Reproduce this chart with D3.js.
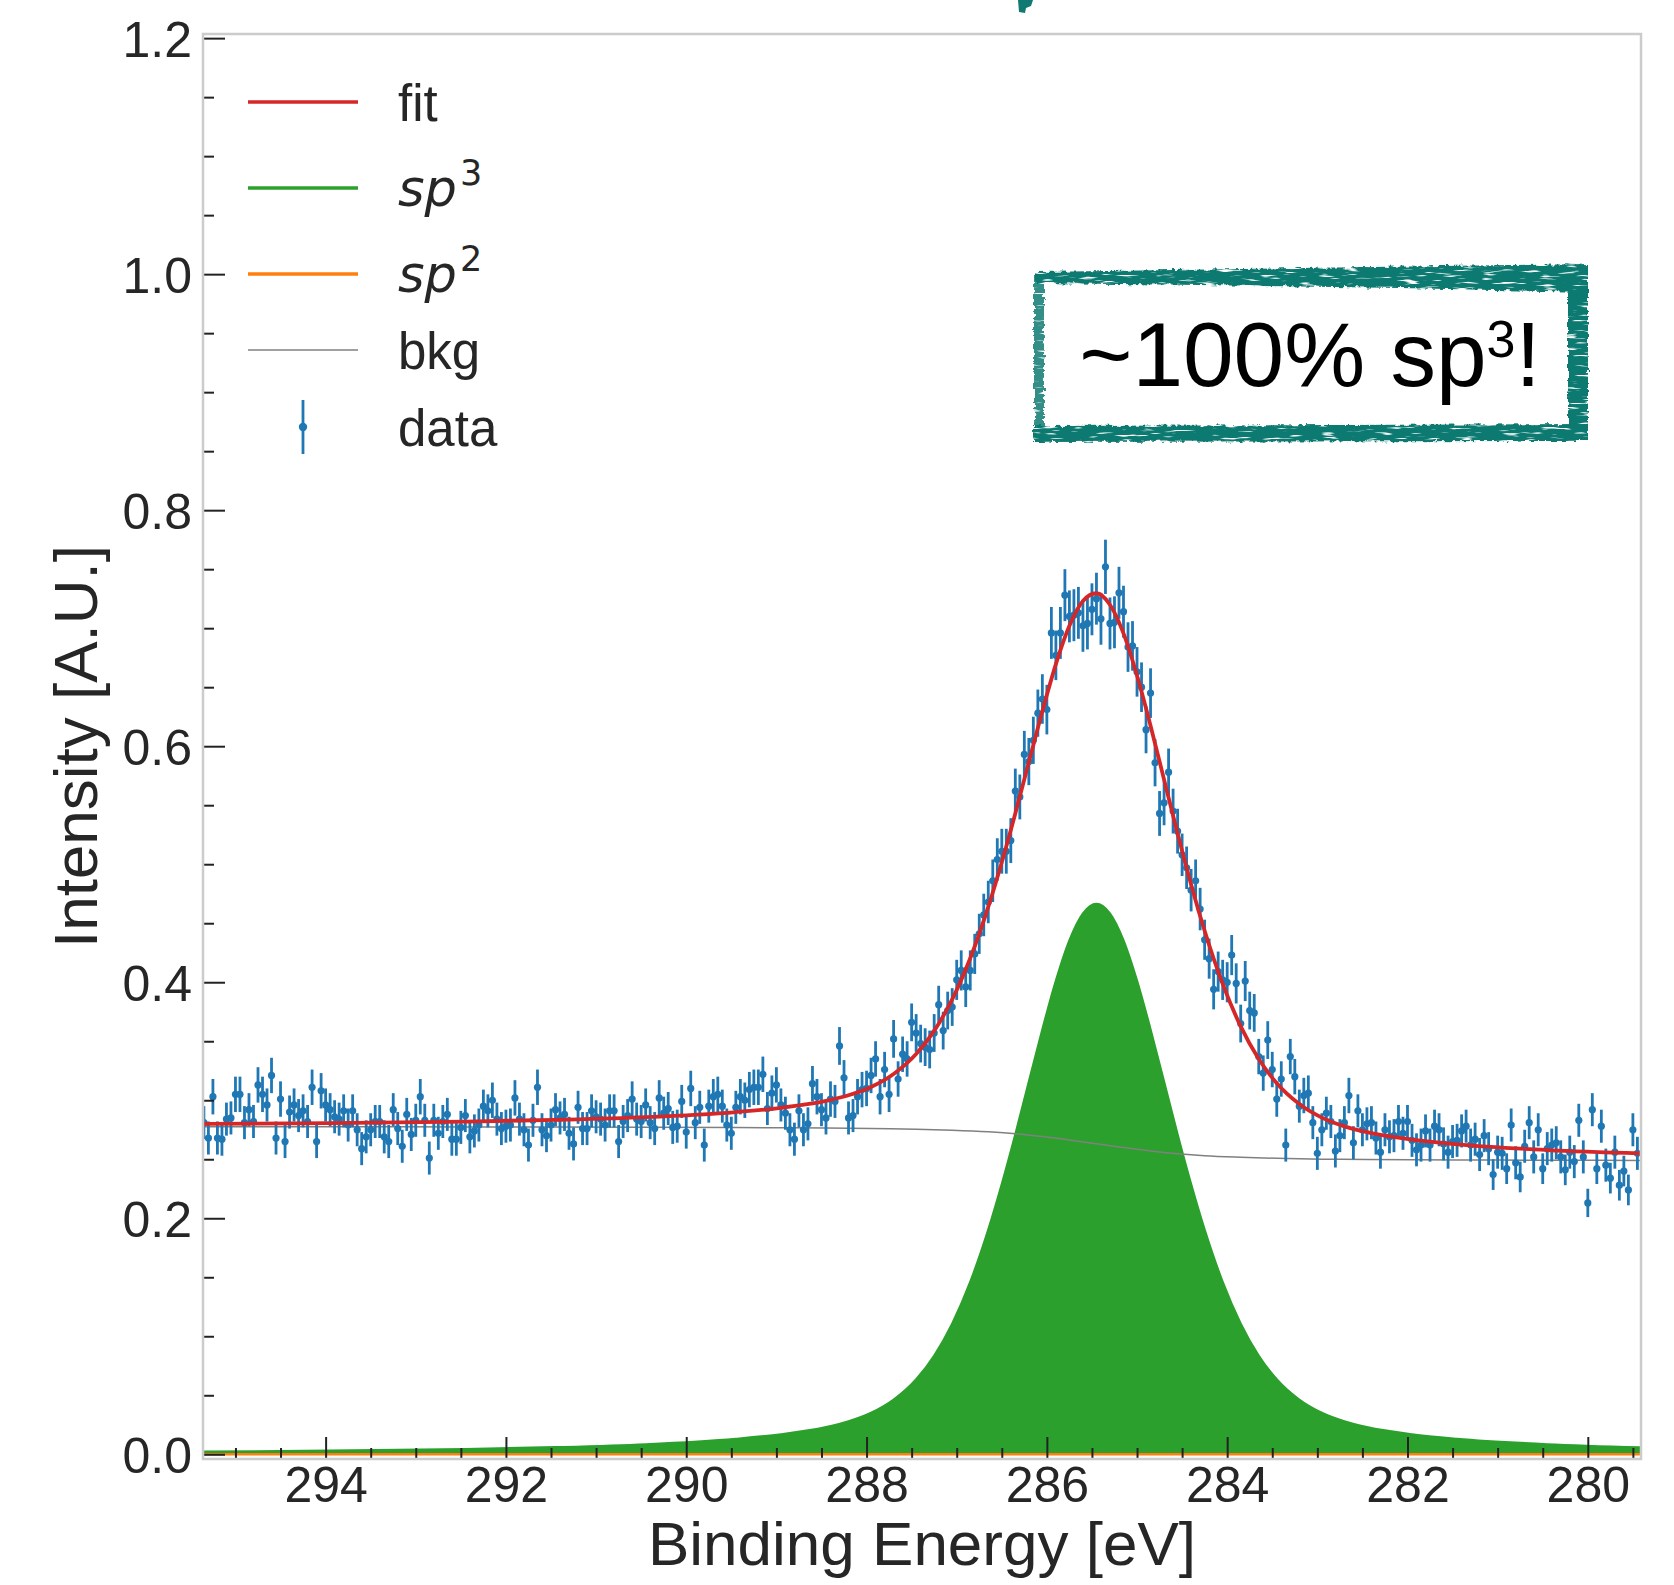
<!DOCTYPE html>
<html>
<head>
<meta charset="utf-8">
<script src="https://cdn.jsdelivr.net/npm/d3@7"></script>
<style>
  html,body{margin:0;padding:0;background:#fff;}
  svg{display:block;}
</style>
</head>
<body>
<svg id="chart" width="1674" height="1585"></svg>
<script>
// ---------------- DATA ----------------
const xTicks = [294, 292, 290, 288, 286, 284, 282, 280];
const xTickLabels = ["294", "292", "290", "288", "286", "284", "282", "280"];
const yTicks = [0.0, 0.2, 0.4, 0.6, 0.8, 1.0, 1.2];
const yTickLabels = ["0.0", "0.2", "0.4", "0.6", "0.8", "1.0", "1.2"];

const legendLabels = ["fit", "sp3", "sp2", "bkg", "data"];

// model curves (energy in eV, intensity in A.U.)
const modelE = [295.4, 293.95, 292.45, 291.45, 290.45, 289.45, 288.95, 288.45, 288.2, 287.95,
  287.7, 287.45, 287.25, 287.05, 286.85, 286.65, 286.5, 286.35, 286.2, 286.05,
  285.9, 285.75, 285.6, 285.45, 285.3, 285.15, 285.0, 284.85, 284.7, 284.55,
  284.4, 284.25, 284.05, 283.85, 283.65, 283.45, 283.2, 282.95, 282.7, 282.45,
  281.95, 281.45, 280.45, 279.4];
const sp3V = [0.0023, 0.0031, 0.0045, 0.0061, 0.0086, 0.0132, 0.017, 0.0231, 0.028, 0.0352,
  0.0464, 0.0636, 0.0837, 0.1109, 0.1463, 0.1906, 0.2292, 0.2714, 0.316, 0.3604,
  0.4016, 0.4357, 0.4584, 0.4665, 0.4584, 0.4357, 0.4016, 0.3604, 0.316, 0.2714,
  0.2292, 0.1906, 0.1463, 0.1109, 0.0837, 0.0636, 0.0464, 0.0352, 0.028, 0.0231,
  0.017, 0.0132, 0.0086, 0.006];
const fitV = [0.2799, 0.2806, 0.2819, 0.2834, 0.2857, 0.29, 0.2936, 0.2995, 0.3042, 0.3112,
  0.3222, 0.3391, 0.3588, 0.3855, 0.4203, 0.4638, 0.5016, 0.543, 0.5865, 0.6296,
  0.6695, 0.702, 0.7231, 0.7296, 0.7199, 0.6956, 0.6599, 0.6174, 0.5717, 0.5261,
  0.4829, 0.4436, 0.3986, 0.3626, 0.3349, 0.3144, 0.2968, 0.2853, 0.2779, 0.2729,
  0.2666, 0.2626, 0.2578, 0.255];
const bkgE = [295.4, 293.95, 292.45, 291.45, 290.45, 289.45, 288.45, 287.95, 287.45, 287.05,
  286.65, 286.35, 286.05, 285.75, 285.45, 285.15, 284.85, 284.55, 284.25, 283.85,
  283.45, 282.95, 282.45, 281.45, 280.45, 279.4];
const bkgV = [0.2776, 0.2775, 0.2774, 0.2773, 0.2771, 0.2768, 0.2764, 0.276, 0.2755, 0.2746,
  0.2732, 0.2716, 0.2692, 0.2663, 0.2631, 0.2599, 0.257, 0.2547, 0.253, 0.2517,
  0.2508, 0.2501, 0.2498, 0.2494, 0.2492, 0.249];
const sp2E = [295.4, 279.4];
const sp2V = [0, 0];

// measured points: energies from 295.35 eV down in 0.05 eV steps
const dataStartE = 295.35, dataStepE = 0.05;
const dataY = [
0.281,0.268,0.303,0.268,0.267,0.284,0.285,0.305,0.305,0.281,0.292,
0.282,0.313,0.305,0.296,0.321,0.268,0.301,0.265,0.290,0.296,0.287,
0.291,0.282,0.311,0.265,0.308,0.296,0.292,0.286,0.284,0.291,0.279,
0.291,0.275,0.259,0.269,0.275,0.282,0.282,0.269,0.265,0.292,0.276,
0.261,0.288,0.271,0.283,0.303,0.283,0.251,0.283,0.272,0.282,0.288,
0.267,0.267,0.277,0.287,0.269,0.274,0.279,0.295,0.291,0.300,0.284,
0.276,0.278,0.279,0.302,0.284,0.275,0.262,0.283,0.311,0.275,0.270,
0.279,0.292,0.285,0.288,0.272,0.263,0.294,0.276,0.276,0.291,0.286,
0.284,0.279,0.291,0.291,0.265,0.282,0.287,0.301,0.284,0.282,0.296,
0.281,0.276,0.302,0.289,0.293,0.277,0.278,0.299,0.273,0.310,0.281,
0.294,0.262,0.295,0.303,0.305,0.295,0.279,0.272,0.294,0.303,0.300,
0.309,0.311,0.311,0.322,0.293,0.306,
0.313,0.296,0.289,0.275,0.267,0.291,0.275,0.280,0.314,0.303,0.292,
0.285,0.301,0.299,0.346,0.319,0.285,0.287,0.303,0.309,0.310,0.321,
0.335,0.303,0.326,0.305,0.352,0.318,0.339,0.335,0.366,0.357,0.348,
0.345,0.343,0.357,0.381,0.359,0.376,0.379,0.402,0.410,0.396,
0.410,0.424,
0.441,0.457,0.468,0.486,
0.504,0.511,0.511,0.520,0.562,0.557,0.593,0.587,0.605,0.628,0.640,
0.631,0.696,0.677,0.696,0.728,0.710,0.711,0.713,0.702,0.704,0.716,
0.725,0.708,0.752,0.704,0.705,0.730,0.714,0.684,0.685,0.663,0.650,
0.614,0.645,0.586,0.543,0.552,0.578,0.545,0.528,
0.508,
0.497,0.478,0.486,0.462,0.436,
0.420,0.394,0.409,0.402,0.400,0.423,0.399,0.365,0.401,0.376,0.374,0.337,0.323,0.351,0.326,0.301,
0.318,0.262,0.337,0.320,0.295,0.304,0.306,0.281,0.255,0.275,0.289,
0.282,0.257,0.270,0.281,0.304,0.264,0.291,0.275,0.280,0.281,0.268,
0.256,0.275,0.269,0.270,0.282,0.272,0.282,0.266,0.258,0.262,0.274,
0.262,0.278,0.275,0.263,0.256,0.265,0.266,0.274,0.278,0.262,0.267,
0.254,0.270,0.259,0.237,0.256,0.255,0.242,0.279,0.247,0.235,0.261,
0.281,0.252,0.275,0.242,0.259,0.262,0.264,0.252,0.241,0.256,0.248,
0.283,0.252,0.213,0.292,0.242,0.278,0.245,0.234,0.256,0.228,0.240,
0.224,0.275,0.255
];
const dataErr = [
0.014,0.014,0.015,0.014,0.014,0.014,0.014,0.015,0.015,0.014,0.014,
0.014,0.015,0.015,0.014,0.015,0.014,0.015,0.014,0.014,0.014,0.014,
0.014,0.014,0.015,0.014,0.015,0.014,0.014,0.014,0.014,0.014,0.014,
0.014,0.014,0.014,0.014,0.014,0.014,0.014,0.014,0.014,0.014,0.014,
0.014,0.014,0.014,0.014,0.015,0.014,0.014,0.014,0.014,0.014,0.014,
0.014,0.014,0.014,0.014,0.014,0.014,0.014,0.014,0.014,0.015,0.014,
0.014,0.014,0.014,0.015,0.014,0.014,0.014,0.014,0.015,0.014,0.014,
0.014,0.014,0.014,0.014,0.014,0.014,0.014,0.014,0.014,0.014,0.014,
0.014,0.014,0.014,0.014,0.014,0.014,0.014,0.015,0.014,0.014,0.014,
0.014,0.014,0.015,0.014,0.014,0.014,0.014,0.014,0.014,0.015,0.014,
0.014,0.014,0.014,0.015,0.015,0.014,0.014,0.014,0.014,0.015,0.015,
0.015,0.015,0.015,0.015,0.014,0.015,
0.015,0.014,0.014,0.014,0.014,0.014,0.014,0.014,0.015,0.015,0.014,
0.014,0.015,0.014,0.016,0.015,0.014,0.014,0.015,0.015,0.015,0.015,
0.015,0.015,0.015,0.015,0.016,0.015,0.015,0.015,0.016,0.016,0.016,
0.016,0.016,0.016,0.016,0.016,0.016,0.016,0.017,0.017,0.017,
0.017,0.017,
0.017,0.018,0.018,0.018,
0.018,0.019,0.019,0.019,0.019,0.019,0.020,0.020,0.020,0.020,0.021,
0.021,0.022,0.021,0.022,0.022,0.022,0.022,0.022,0.022,0.022,0.022,
0.022,0.022,0.023,0.022,0.022,0.022,0.022,0.021,0.021,0.021,0.021,
0.020,0.021,0.020,0.019,0.019,0.020,0.019,0.019,
0.018,
0.018,0.018,0.018,0.018,0.017,
0.017,0.017,0.017,0.017,0.017,0.017,0.017,0.016,0.017,0.016,0.016,0.015,0.015,0.016,0.015,0.015,
0.015,0.014,0.015,0.015,0.014,0.015,0.015,0.014,0.014,0.014,0.014,
0.014,0.014,0.014,0.014,0.015,0.014,0.014,0.014,0.014,0.014,0.014,
0.014,0.014,0.014,0.014,0.014,0.014,0.014,0.014,0.014,0.014,0.014,
0.014,0.014,0.014,0.014,0.014,0.014,0.014,0.014,0.014,0.014,0.014,
0.014,0.014,0.014,0.013,0.014,0.014,0.013,0.014,0.014,0.013,0.014,
0.014,0.014,0.014,0.013,0.014,0.014,0.014,0.014,0.013,0.014,0.014,
0.014,0.014,0.012,0.014,0.013,0.014,0.014,0.013,0.014,0.013,0.013,
0.013,0.014,0.014
];
if (dataY.length !== dataErr.length) console.error("length mismatch", dataY.length, dataErr.length);

// ---------------- LAYOUT ----------------
const plot = {left: 203, right: 1641, top: 34, bottom: 1459};
const FONT = "'Liberation Sans', Arial, Helvetica, sans-serif";
const TXT = "#262626";
const C = {fit: "#d62728", sp3: "#2ca02c", sp2: "#ff7f0e", bkg: "#808080", data: "#1f77b4", teal: "#107a72"};

const svg = d3.select("#chart");
const x = d3.scaleLinear().domain([295.36, 279.41]).range([plot.left, plot.right]);
const y = d3.scaleLinear().domain([-0.004, 1.2035]).range([plot.bottom, plot.top]);

const defs = svg.append("defs");
defs.append("clipPath").attr("id", "clip")
  .append("rect").attr("x", plot.left).attr("y", plot.top)
  .attr("width", plot.right - plot.left).attr("height", plot.bottom - plot.top);

// grunge filter for the stamp box: rough edges, mostly solid ink with a few light streaks
const f = defs.append("filter").attr("id", "grunge")
  .attr("x", "-10%").attr("y", "-30%").attr("width", "120%").attr("height", "160%");
f.append("feTurbulence").attr("type", "fractalNoise").attr("baseFrequency", "0.18")
  .attr("numOctaves", 3).attr("seed", 4).attr("result", "n");
f.append("feDisplacementMap").attr("in", "SourceGraphic").attr("in2", "n")
  .attr("scale", 6).attr("xChannelSelector", "R").attr("yChannelSelector", "G").attr("result", "d");
f.append("feTurbulence").attr("type", "fractalNoise").attr("baseFrequency", "0.05 0.4")
  .attr("numOctaves", 2).attr("seed", 11).attr("result", "n2");
f.append("feColorMatrix").attr("in", "n2").attr("type", "matrix")
  .attr("values", "0 0 0 0 0  0 0 0 0 0  0 0 0 0 0  0 0 0 -6 4.6").attr("result", "m");
f.append("feComposite").attr("in", "d").attr("in2", "m").attr("operator", "in");

const g = svg.append("g").attr("clip-path", "url(#clip)");

// sp3 fill + line
const model = modelE.map((e, i) => ({e, sp3: sp3V[i], fit: fitV[i]}));
const bkg = bkgE.map((e, i) => ({e, v: bkgV[i]}));
const sp2 = sp2E.map((e, i) => ({e, v: sp2V[i]}));

g.append("path").datum(model)
  .attr("d", d3.area().x(d => x(d.e)).y0(y(0)).y1(d => y(d.sp3)).curve(d3.curveMonotoneX))
  .attr("fill", C.sp3);
g.append("path").datum(model)
  .attr("d", d3.line().x(d => x(d.e)).y(d => y(d.sp3)).curve(d3.curveMonotoneX))
  .attr("fill", "none").attr("stroke", C.sp3).attr("stroke-width", 2);
g.append("path").datum(sp2)
  .attr("d", d3.line().x(d => x(d.e)).y(d => y(d.v)))
  .attr("fill", "none").attr("stroke", C.sp2).attr("stroke-width", 2.5);
g.append("path").datum(bkg)
  .attr("d", d3.line().x(d => x(d.e)).y(d => y(d.v)).curve(d3.curveMonotoneX))
  .attr("fill", "none").attr("stroke", C.bkg).attr("stroke-width", 1.5);

// data with error bars
const pts = dataY.map((v, i) => ({e: dataStartE - dataStepE * i, v, err: dataErr[i]}));
const dg = g.append("g");
dg.selectAll("line").data(pts).join("line")
  .attr("x1", d => x(d.e)).attr("x2", d => x(d.e))
  .attr("y1", d => y(d.v - d.err)).attr("y2", d => y(d.v + d.err))
  .attr("stroke", C.data).attr("stroke-width", 2.8);
dg.selectAll("circle").data(pts).join("circle")
  .attr("cx", d => x(d.e)).attr("cy", d => y(d.v)).attr("r", 3.6)
  .attr("fill", C.data);

// fit line
g.append("path").datum(model)
  .attr("d", d3.line().x(d => x(d.e)).y(d => y(d.fit)).curve(d3.curveMonotoneX))
  .attr("fill", "none").attr("stroke", C.fit).attr("stroke-width", 3.8);

// ---------------- AXES ----------------
const yMinor = d3.range(0, 1.2001, 0.05).filter(v => Math.abs(v * 5 - Math.round(v * 5)) > 1e-6);
const xMinor = d3.range(279.5, 295.4, 0.5).filter(v => Math.abs(v / 2 - Math.round(v / 2)) > 1e-6);

function styleAxis(sel, fs) {
  sel.select(".domain").remove();
  sel.selectAll(".tick line").attr("stroke", "#222").attr("stroke-width", 2);
  sel.selectAll(".tick text").attr("fill", TXT).style("font-family", FONT).style("font-size", fs + "px");
}
const yAxis = svg.append("g").attr("transform", `translate(${plot.left},0)`)
  .call(d3.axisLeft(y).tickValues(yTicks).tickFormat((d, i) => yTickLabels[i]).tickSizeInner(-22).tickSizeOuter(0).tickPadding(11));
styleAxis(yAxis, 50);
yAxis.selectAll(".tick text").attr("dy", "0.36em");
const yAxisMinor = svg.append("g").attr("transform", `translate(${plot.left},0)`)
  .call(d3.axisLeft(y).tickValues(yMinor).tickFormat("").tickSizeInner(-11).tickSizeOuter(0));
styleAxis(yAxisMinor, 50);

const xAxis = svg.append("g").attr("transform", `translate(0,${plot.bottom})`)
  .call(d3.axisBottom(x).tickValues(xTicks).tickFormat((d, i) => xTickLabels[i]).tickSizeInner(-22).tickSizeOuter(0).tickPadding(7));
styleAxis(xAxis, 50);
const xAxisMinor = svg.append("g").attr("transform", `translate(0,${plot.bottom})`)
  .call(d3.axisBottom(x).tickValues(xMinor).tickFormat("").tickSizeInner(-11).tickSizeOuter(0));
styleAxis(xAxisMinor, 50);

// frame
svg.append("rect").attr("x", plot.left).attr("y", plot.top)
  .attr("width", plot.right - plot.left).attr("height", plot.bottom - plot.top)
  .attr("fill", "none").attr("stroke", "#cccccc").attr("stroke-width", 2.5);

// axis titles
svg.append("text").attr("x", (plot.left + plot.right) / 2).attr("y", 1565)
  .attr("text-anchor", "middle").attr("fill", TXT)
  .style("font-family", FONT).style("font-size", "62px").text("Binding Energy [eV]");
svg.append("text").attr("transform", `translate(97,${(plot.top + plot.bottom) / 2}) rotate(-90)`)
  .attr("text-anchor", "middle").attr("fill", TXT)
  .style("font-family", FONT).style("font-size", "62px").text("Intensity [A.U.]");

// ---------------- LEGEND ----------------
const lg = svg.append("g");
const rowY = [102, 188, 274, 350, 427];
const lx0 = 248, lx1 = 358, ltx = 398;
lg.append("line").attr("x1", lx0).attr("x2", lx1).attr("y1", rowY[0]).attr("y2", rowY[0]).attr("stroke", C.fit).attr("stroke-width", 3.6);
lg.append("line").attr("x1", lx0).attr("x2", lx1).attr("y1", rowY[1]).attr("y2", rowY[1]).attr("stroke", C.sp3).attr("stroke-width", 3.6);
lg.append("line").attr("x1", lx0).attr("x2", lx1).attr("y1", rowY[2]).attr("y2", rowY[2]).attr("stroke", C.sp2).attr("stroke-width", 3.6);
lg.append("line").attr("x1", lx0).attr("x2", lx1).attr("y1", rowY[3]).attr("y2", rowY[3]).attr("stroke", C.bkg).attr("stroke-width", 1.5);
lg.append("line").attr("x1", 303).attr("x2", 303).attr("y1", rowY[4] - 27).attr("y2", rowY[4] + 27).attr("stroke", C.data).attr("stroke-width", 2.8);
lg.append("circle").attr("cx", 303).attr("cy", rowY[4]).attr("r", 4.2).attr("fill", C.data);

function plainLabel(i, t) {
  lg.append("text").attr("x", ltx).attr("y", rowY[i] + 19).attr("fill", TXT)
    .style("font-family", FONT).style("font-size", "51px").text(t);
}
function mathLabel(i, base, sup) {
  const t = lg.append("text").attr("x", ltx).attr("y", rowY[i] + 18).attr("fill", TXT)
    .style("font-family", "'DejaVu Sans', sans-serif").style("font-size", "51px");
  t.append("tspan").style("font-style", "italic").text(base);
  t.append("tspan").attr("dx", 3).attr("dy", -21).style("font-size", "35px").text(sup);
}
plainLabel(0, legendLabels[0]);
mathLabel(1, "sp", "3");
mathLabel(2, "sp", "2");
plainLabel(3, legendLabels[3]);
plainLabel(4, legendLabels[4]);

// ---------------- STAMP BOX ----------------
const stamp = svg.append("g").attr("filter", "url(#grunge)").attr("fill", C.teal);
// top border (thicker to the right)
stamp.append("path").attr("d", "M1036,272 L1300,268 L1588,264 L1588,292 L1400,288 L1200,285 L1036,283 Z");
// right border
stamp.append("rect").attr("x", 1568).attr("y", 266).attr("width", 20).attr("height", 175);
// bottom border
stamp.append("path").attr("d", "M1033,426 L1588,424 L1588,441 L1033,442 Z");
// left border (thin, scratchy)
stamp.append("rect").attr("x", 1034).attr("y", 276).attr("width", 10).attr("height", 165).attr("opacity", 0.85);
// small mark at the top of the figure
svg.append("path").attr("fill", C.teal)
  .attr("d", "M1018,0 L1033,0 L1031,6 L1026,8 L1025,13 L1019,12 Z");

const st = svg.append("text").attr("x", 1310).attr("y", 386).attr("text-anchor", "middle")
  .attr("fill", "#000").style("font-family", FONT).style("font-size", "91px");
st.append("tspan").text("~100% sp");
st.append("tspan").attr("dy", -29).style("font-size", "52px").text("3");
st.append("tspan").attr("dy", 29).text("!");
</script>
</body>
</html>
